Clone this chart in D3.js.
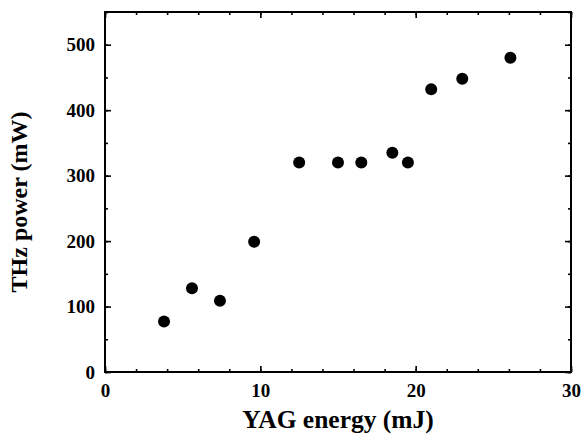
<!DOCTYPE html>
<html lang="en">
<head>
<meta charset="utf-8">
<title>THz power vs YAG energy</title>
<script src="https://d3js.org/d3.v7.min.js"></script>
<style>
  body { margin: 0; background: #fff; }
  svg text { font-family: "Liberation Serif", "Times New Roman", serif; font-weight: bold; fill: #000; }
</style>
</head>
<body>
<svg width="583" height="438"></svg>
<script>
// data
var energy = [3.8, 5.6, 7.4, 9.6, 12.5, 15.0, 16.5, 18.5, 19.5, 21.0, 23.0, 26.1];
var power  = [77, 128, 109, 199, 320, 320, 320, 335, 320, 432, 448, 480];
var xTicks = [0, 10, 20, 30];
var yTicks = [0, 100, 200, 300, 400, 500];

var svg = d3.select("svg");
var pLeft = 105, pRight = 571, pTop = 12, pBottom = 372;

var x = d3.scaleLinear().domain([0, 30]).range([pLeft, pRight]);
var y = d3.scaleLinear().domain([0, 550]).range([pBottom, pTop]);

var g = svg.append("g");

function styleAxis(sel) {
  sel.select(".domain").remove();
  sel.selectAll("line").attr("stroke", "#000").attr("stroke-width", 1.6);
  sel.selectAll("text").style("font-size", "19px");
}

// minor ticks
var xMinor = d3.range(0, 31, 2);
var yMinor = d3.range(0, 551, 50);

g.append("g").attr("transform", "translate(0," + pBottom + ")")
  .call(d3.axisBottom(x).tickValues(xMinor).tickSize(-3).tickFormat(""))
  .call(styleAxis);
g.append("g").attr("transform", "translate(0," + pTop + ")")
  .call(d3.axisTop(x).tickValues(xMinor).tickSize(-3).tickFormat(""))
  .call(styleAxis);
g.append("g").attr("transform", "translate(" + pLeft + ",0)")
  .call(d3.axisLeft(y).tickValues(yMinor).tickSize(-3).tickFormat(""))
  .call(styleAxis);
g.append("g").attr("transform", "translate(" + pRight + ",0)")
  .call(d3.axisRight(y).tickValues(yMinor).tickSize(-3).tickFormat(""))
  .call(styleAxis);

// major ticks with labels
g.append("g").attr("transform", "translate(0," + pBottom + ")")
  .call(d3.axisBottom(x).tickValues(xTicks).tickSize(-6).tickPadding(12).tickFormat(d3.format("d")))
  .call(styleAxis);
g.append("g").attr("transform", "translate(0," + pTop + ")")
  .call(d3.axisTop(x).tickValues(xTicks).tickSize(-6).tickFormat(""))
  .call(styleAxis);
g.append("g").attr("transform", "translate(" + pLeft + ",0)")
  .call(d3.axisLeft(y).tickValues(yTicks).tickSize(-6).tickPadding(10).tickFormat(d3.format("d")))
  .call(styleAxis);
g.append("g").attr("transform", "translate(" + pRight + ",0)")
  .call(d3.axisRight(y).tickValues(yTicks).tickSize(-6).tickFormat(""))
  .call(styleAxis);

// frame
g.append("rect")
  .attr("x", pLeft).attr("y", pTop)
  .attr("width", pRight - pLeft).attr("height", pBottom - pTop)
  .attr("fill", "none").attr("stroke", "#000").attr("stroke-width", 2);

// points
g.selectAll(".pt")
  .data(energy)
  .enter().append("circle")
  .attr("class", "pt")
  .attr("cx", function(d) { return x(d); })
  .attr("cy", function(d, i) { return y(power[i]); })
  .attr("r", 6)
  .attr("fill", "#000");

// axis titles
svg.append("text")
  .attr("x", 338).attr("y", 428)
  .attr("text-anchor", "middle")
  .style("font-size", "25.5px")
  .text("YAG energy (mJ)");

svg.append("text")
  .attr("transform", "translate(27,202) rotate(-90)")
  .attr("text-anchor", "middle")
  .style("font-size", "24px")
  .text("THz power (mW)");
</script>
</body>
</html>
